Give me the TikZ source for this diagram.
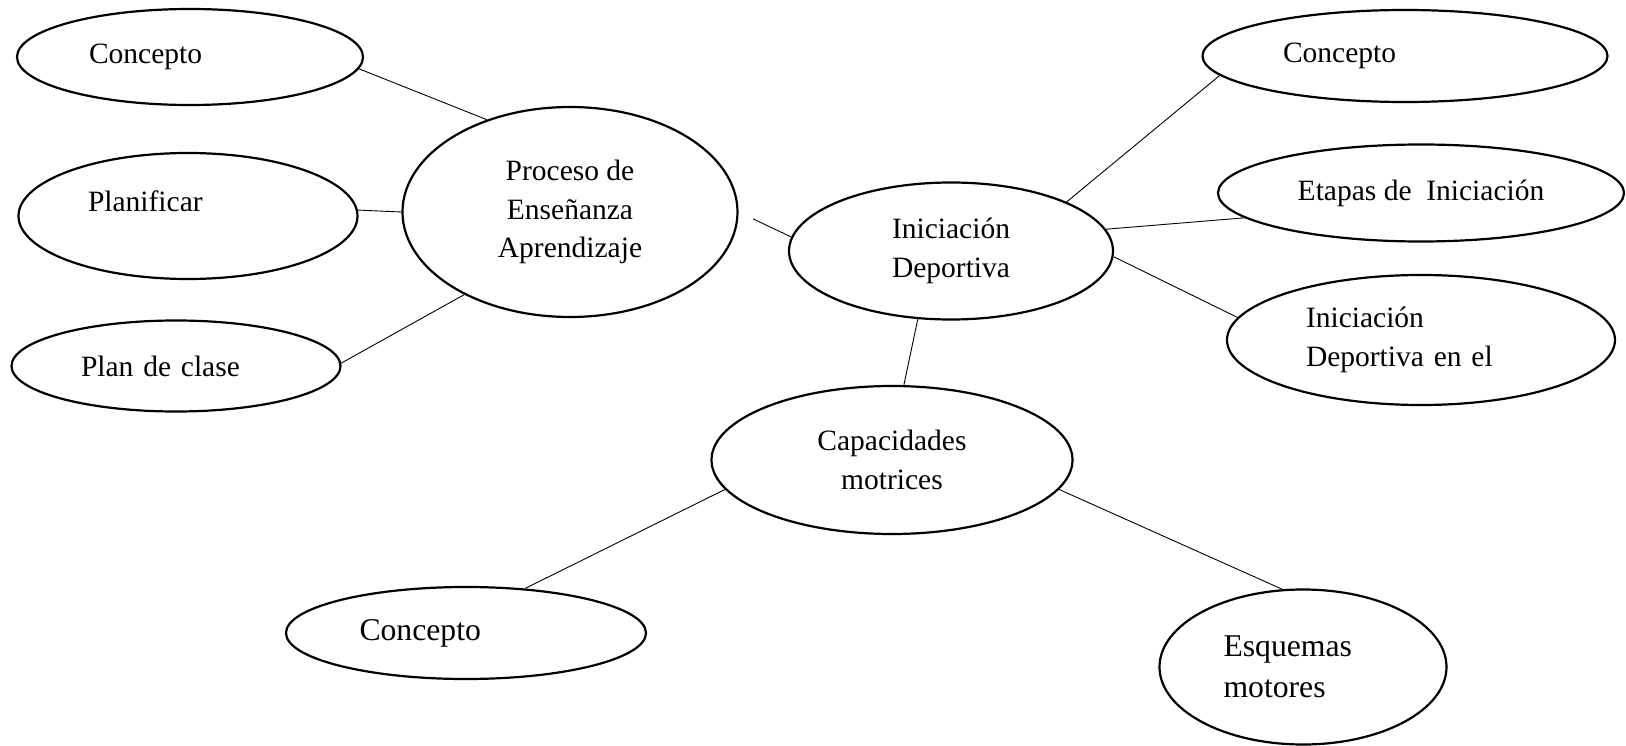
\documentclass[tikz,border=0pt]{standalone}
\usepackage{fontspec}
\setmainfont{Liberation Serif}
\usetikzlibrary{shapes.geometric}

\begin{document}
\begin{tikzpicture}[x=1pt,y=-1pt,
    bub/.style={ellipse, draw, line width=2.2pt, inner sep=0pt, font=\fontsize{29.5}{38.5}\selectfont},
    big/.style={font=\fontsize{31.7}{41}\selectfont},
    dims/.style 2 args={minimum width=#1, minimum height=#2},
    lft/.style={align=left, text width=#1},
    link/.style={line width=0.9pt}]
  \useasboundingbox (0,0) rectangle (1626,746);

  % left branch
  \node[bub, dims={346}{96}, lft=202] (concL) at (190,57) {Concepto};
  \node[bub, dims={339}{126}, lft=200, text depth=30pt] (plan) at (188,216) {Planificar};
  \node[bub, dims={329}{91}, lft=190] (clase) at (176,366) {Plan de clase};
  \node[bub, dims={335}{210}, align=center] (proc) at (570,212) {Proceso de\\Enseñanza\\Aprendizaje};

  % centre
  \node[bub, dims={324}{137}, align=center] (ini) at (951,251) {Iniciación\\Deportiva};
  \node[bub, dims={361}{148}, align=center] (capa) at (892,460) {Capacidades\\motrices};

  % right branch
  \node[bub, dims={405}{92}, lft=244] (concR) at (1405,56) {Concepto};
  \node[bub, dims={406}{97}, align=center] (etapa) at (1421,193) {Etapas de\ \ Iniciación};
  \node[bub, dims={388}{130}, lft=230] (inicol) at (1421,340) {Iniciación\\Deportiva en el};

  % bottom
  \node[bub, big, dims={360}{92}, lft=213] (concB) at (466,633) {Concepto};
  \node[bub, big, dims={287}{155}, lft=159] (esq) at (1303,667) {Esquemas\\motores};

  \draw[link] (concL.-4) -- (proc.132);
  \draw[link] (plan.2) -- (proc.180);
  \draw[link] (clase.1) -- (proc.218);
  \draw[link, shorten <=16pt] (proc.0) -- (ini.175);
  \draw[link] (ini.23) -- (concR.186);
  \draw[link] (ini.8) -- (etapa.188);
  \draw[link] (ini.-2) -- (inicol.173);
  \draw[link] (ini.244) -- (capa.81);
  \draw[link] (capa.190) -- (concB.37);
  \draw[link] (capa.-10) -- (esq.105);
\end{tikzpicture}
\end{document}
